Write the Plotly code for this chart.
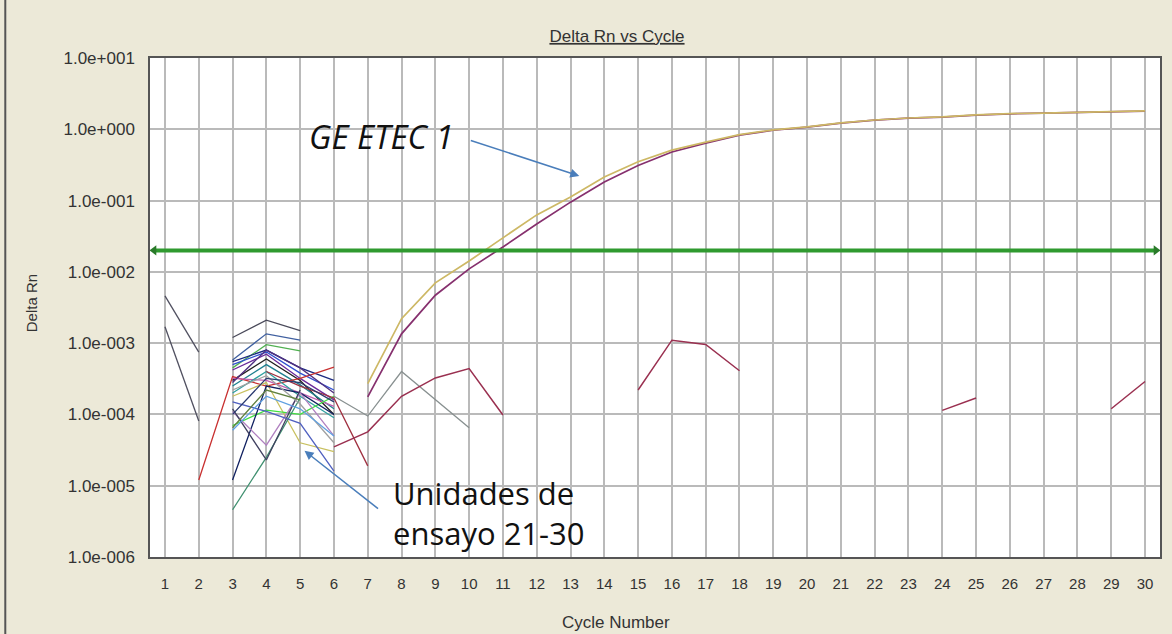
import plotly.graph_objects as go

# Delta Rn vs Cycle (qPCR amplification plot, log scale)

cycles = list(range(1, 31))

# two amplification curves (GE ETEC 1), cycles 7..30
amp_cycles = list(range(7, 31))
amp_upper = [2.7e-4, 2.2e-3, 7.0e-3, 1.42e-2, 3.0e-2, 6.3e-2, 0.112, 0.214, 0.35, 0.51,
             0.66, 0.84, 0.98, 1.08, 1.23, 1.35, 1.44, 1.49, 1.59, 1.66, 1.69, 1.74, 1.78, 1.81]
amp_lower = [1.76e-4, 1.35e-3, 4.7e-3, 1.10e-2, 2.23e-2, 4.7e-2, 0.095, 0.182, 0.31, 0.48,
             0.64, 0.83, 0.97, 1.07, 1.22, 1.34, 1.43, 1.48, 1.58, 1.65, 1.68, 1.73, 1.77, 1.80]

# early noise, cycles 1-2
early_cycles = [1, 2]
early_a = [4.6e-3, 7.5e-4]
early_b = [1.7e-3, 8.1e-5]

# background noise of units 21-30, cycles 2..7 (None = not plotted)
noise_cycles = [2, 3, 4, 5, 6, 7]
noise_values = [
    [None, 1.2e-3, 2.1e-3, 1.5e-3, None, None],
    [None, 5.8e-4, 1.35e-3, 1.1e-3, None, None],
    [None, 4.5e-4, 9.5e-4, 7.8e-4, None, None],
    [None, 5.5e-4, 8.0e-4, 4.5e-4, 3.0e-4, None],
    [None, 5.0e-4, 7.5e-4, 3.8e-4, 2.2e-4, None],
    [None, 4.2e-4, 7.0e-4, 3.2e-4, 1.6e-4, None],
    [None, 3.0e-4, 6.0e-4, 3.0e-4, 1.0e-4, None],
    [None, 2.5e-4, 5.0e-4, 2.6e-4, 1.2e-4, None],
    [1.2e-5, 3.4e-4, 2.5e-4, 3.2e-4, 4.6e-4, None],
    [None, 3.2e-4, 3.0e-4, 2.0e-4, 1.3e-4, None],
    [None, 2.0e-4, 4.0e-4, 1.8e-4, 9.0e-5, None],
    [None, 1.8e-4, 2.8e-4, 4.0e-5, 3.0e-5, None],
    [None, 7.0e-5, 1.15e-4, 1.0e-4, 1.8e-4, None],
    [None, 4.6e-6, 2.5e-5, 1.7e-4, None, None],
    [None, 1.2e-5, 2.5e-4, 2.0e-4, 1.0e-4, None],
    [None, 1.1e-4, 3.7e-5, 2.0e-4, 5.0e-5, None],
    [None, 1.2e-4, 2.3e-5, 2.2e-4, None, None],
    [None, 1.5e-4, 1.1e-4, 7.5e-5, 1.6e-5, None],
    [None, 2.2e-4, 3.5e-4, 1.4e-4, 4.0e-5, None],
    [None, None, 4.0e-4, 2.5e-4, 1.7e-4, 1.9e-5],
    [None, 6.0e-5, 1.8e-4, 1.2e-4, 5.0e-5, None],
    [None, 2.8e-4, 8.0e-4, 4.5e-4, 2.0e-4, None],
    [None, 1.0e-4, 3.2e-4, 2.8e-4, 1.5e-4, None],
    [None, 6.5e-5, 2.2e-4, 1.6e-4, None, None],
]
noise_colors = ["#4a4a5a", "#4060a0", "#50b050", "#1c2a80", "#3050d0", "#6a2a9a",
                "#202020", "#208090", "#c83030", "#c060b0", "#30a0a0", "#c8c060",
                "#40e040", "#409070", "#102060", "#b080c0", "#404060", "#5060c0",
                "#a0a0a0", "#a03040", "#60a0e0", "#503080", "#2a3a70", "#608040"]

# grey well, cycles 6..10
grey_cycles = [6, 7, 8, 9, 10]
grey_values = [1.8e-4, 9.5e-5, 4.0e-4, 1.6e-4, 6.5e-5]

# maroon well, cycles 6..30 with gaps
maroon_cycles = list(range(6, 31))
maroon_values = [3.5e-5, 5.7e-5, 1.8e-4, 3.25e-4, 4.4e-4, 9.8e-5, None, None, None,
                 2.2e-4, 1.1e-3, 9.6e-4, 4.1e-4, None, None, None, None, None,
                 1.14e-4, 1.7e-4, None, None, None, 1.2e-4, 2.9e-4]

threshold = 0.02

y_tickvals = [1e-6, 1e-5, 1e-4, 1e-3, 1e-2, 1e-1, 1e0, 1e1]
y_ticktext = ["1.0e-006", "1.0e-005", "1.0e-004", "1.0e-003",
              "1.0e-002", "1.0e-001", "1.0e+000", "1.0e+001"]

x_lo, x_hi = 0.557, 30.443

fig = go.Figure()

for vals, col in zip(noise_values, noise_colors):
    fig.add_trace(go.Scatter(x=noise_cycles, y=vals, mode="lines",
                             line=dict(color=col, width=1.3), connectgaps=False))

fig.add_trace(go.Scatter(x=early_cycles, y=early_a, mode="lines", line=dict(color="#505060", width=1.3)))
fig.add_trace(go.Scatter(x=early_cycles, y=early_b, mode="lines", line=dict(color="#505060", width=1.3)))
fig.add_trace(go.Scatter(x=grey_cycles, y=grey_values, mode="lines", line=dict(color="#889090", width=1.3)))
fig.add_trace(go.Scatter(x=maroon_cycles, y=maroon_values, mode="lines",
                         line=dict(color="#9a3050", width=1.5), connectgaps=False))

fig.add_trace(go.Scatter(x=amp_cycles, y=amp_lower, mode="lines", line=dict(color="#86306e", width=1.7)))
fig.add_trace(go.Scatter(x=amp_cycles, y=amp_upper, mode="lines", line=dict(color="#cdb865", width=1.7)))

# threshold line with arrow heads
fig.add_trace(go.Scatter(x=[x_lo + 0.12, x_hi - 0.12], y=[threshold, threshold], mode="lines+markers",
                         line=dict(color="#2f9a2f", width=4),
                         marker=dict(symbol=["triangle-left", "triangle-right"], size=9, color="#2a7a2a")))

base_font = "Liberation Sans, Arial, sans-serif"

fig.update_layout(
    width=1172, height=634,
    paper_bgcolor="#ECE9D8", plot_bgcolor="white",
    margin=dict(l=150, r=10, t=58, b=77),
    showlegend=False,
    font=dict(family=base_font, size=16, color="#333333"),
    title=dict(text="<u>Delta Rn vs Cycle</u>", x=617 / 1172, y=1 - 36 / 634,
               xanchor="center", yanchor="middle",
               font=dict(family=base_font, size=17, color="#333333")),
)

fig.update_xaxes(range=[x_lo, x_hi], tickvals=cycles, showgrid=True, gridcolor="#bababa", gridwidth=1.5,
                 zeroline=False, showline=True, linecolor="#555555", linewidth=1.5, mirror=True,
                 ticks="outside", ticklen=12, tickcolor="rgba(0,0,0,0)",
                 tickfont=dict(size=15, color="#333333"))

fig.update_yaxes(type="log", range=[-6, 1], tickvals=y_tickvals, ticktext=y_ticktext,
                 showgrid=True, gridcolor="#bababa", gridwidth=1.5, zeroline=False,
                 showline=True, linecolor="#555555", linewidth=1.5, mirror=True,
                 ticks="outside", ticklen=10, tickcolor="rgba(0,0,0,0)",
                 tickfont=dict(size=17, color="#333333"))

# axis titles placed as annotations
fig.add_annotation(xref="paper", yref="paper", x=(617 - 150) / 1012, y=-(622 - 557) / 499,
                   text="Cycle Number", showarrow=False, yanchor="middle",
                   font=dict(size=17, color="#333333"))
fig.add_annotation(xref="paper", yref="paper", x=-(150 - 31) / 1012, y=(557 - 303) / 499,
                   text="Delta Rn", showarrow=False, textangle=-90,
                   xanchor="center", yanchor="middle",
                   font=dict(size=15, color="#333333"))

# text labels and arrows
fig.add_annotation(x=7.41, y=-0.108, text="<i>GE ETEC 1</i>", showarrow=False,
                   font=dict(family="Open Sans, Noto Sans, sans-serif", size=33, color="#111111"))
fig.add_annotation(x=13.26, y=-0.655, text="", showarrow=True, ax=-110, ay=-36,
                   arrowhead=2, arrowsize=1.2, arrowwidth=1.5, arrowcolor="#4a7ebb")
fig.add_annotation(x=7.7, y=-5.38, text="Unidades de<br>ensayo 21-30", showarrow=False,
                   xanchor="left", align="left",
                   font=dict(family="Open Sans, Noto Sans, sans-serif", size=31, color="#111111"))
fig.add_annotation(x=5.13, y=-4.51, text="", showarrow=True, ax=75, ay=59,
                   arrowhead=2, arrowsize=1.2, arrowwidth=1.5, arrowcolor="#4a7ebb")

# window border on the left
fig.add_shape(type="line", xref="paper", yref="paper", x0=-145 / 1012, x1=-145 / 1012,
              y0=-77 / 499, y1=1 + 58 / 499, line=dict(color="#555555", width=2))

fig.write_html("out.html", config={"displayModeBar": False},
               post_script="document.body.style.margin='0';document.body.style.background='#ECE9D8';")
